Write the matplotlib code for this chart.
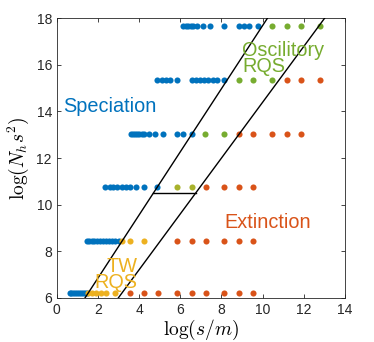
import matplotlib
matplotlib.use("Agg")
import matplotlib.pyplot as plt

# --- data ------------------------------------------------------------------
# y level of each row of simulations, log(N_h s^2)
row_y = [6.2, 8.45, 10.75, 13.05, 15.35, 17.65]

# x positions, log(s/m), one list per row (bottom to top)
speciation_x = [
    [0.62, 0.70, 0.79, 0.88, 0.97, 1.06, 1.16, 1.26, 1.36, 1.46],
    [1.46, 1.58, 1.70, 1.83, 1.96, 2.10, 2.24, 2.38, 2.53, 2.68, 2.84, 3.00],
    [2.34, 2.56, 2.75, 2.94, 3.16, 3.36, 3.56, 3.85, 4.24, 4.88],
    [3.59, 3.70, 3.80, 3.90, 4.01, 4.12, 4.24, 4.50, 4.77, 5.15, 5.82, 6.12, 6.55],
    [4.88, 5.10, 5.31, 5.50, 5.86, 6.55, 6.76, 6.96, 7.15, 7.36, 7.57, 7.77, 8.14],
    [6.15, 6.27, 6.39, 6.51, 6.63, 6.83, 7.09, 7.44, 8.14, 8.87, 9.09, 9.33, 9.79],
]
tw_rqs_x = [
    [1.52, 1.70, 1.91, 2.14, 2.39, 2.83],
    [3.19, 3.56, 4.24],
    [],
    [],
    [],
    [],
]
mixed_x = [[], [], [5.86, 6.55], [], [], []]
osc_rqs_x = [
    [],
    [],
    [],
    [7.20, 8.14],
    [8.87, 9.56, 10.47],
    [10.47, 11.19, 11.87, 12.80],
]
extinction_x = [
    [3.56, 4.24, 4.90, 5.86, 6.55, 7.23, 8.12, 8.85, 9.54],
    [5.82, 6.55, 7.23, 8.14, 8.87, 9.56],
    [7.23, 8.14, 8.87, 9.56],
    [8.87, 9.56, 10.47, 11.18, 11.87],
    [11.18, 11.87, 12.80],
    [],
]

# phase boundaries
bound_y = [6.0, 18.0]
bound1_x = [1.37, 10.24]
bound2_x = [2.99, 13.02]
step_x = [4.69, 6.76]
step_y = [10.48, 10.48]

BLUE = "#0072BD"
ORANGE = "#D95319"
YELLOW = "#EDB120"
GREEN = "#77AC30"
OLIVE = "#A8B22C"

plt.rcParams["font.family"] = ["Liberation Sans", "DejaVu Sans"]
plt.rcParams["mathtext.fontset"] = "cm"

fig = plt.figure(figsize=(3.74, 3.42), dpi=100)
ax = fig.add_axes([0.152, 0.129, 0.770, 0.818])

groups = [
    (speciation_x, BLUE),
    (tw_rqs_x, YELLOW),
    (mixed_x, OLIVE),
    (osc_rqs_x, GREEN),
    (extinction_x, ORANGE),
]
for xs_rows, col in groups:
    for y, xs in zip(row_y, xs_rows):
        if xs:
            ax.plot(xs, [y] * len(xs), "o", color=col, ms=4.4, mec="none",
                    zorder=2, clip_on=False)

ax.plot(bound1_x, bound_y, color="black", lw=1.0, zorder=3)
ax.plot(bound2_x, bound_y, color="black", lw=1.0, zorder=3)
ax.plot(step_x, step_y, color="black", lw=1.0, zorder=3)

fs = 14.3
ax.text(0.3, 14.2, "Speciation", color=BLUE, fontsize=fs, va="center")
ax.text(9.0, 16.26, "Oscilitory\nRQS", color=GREEN, fontsize=fs,
        va="center", ha="left", linespacing=0.78)
ax.text(8.15, 9.25, "Extinction", color=ORANGE, fontsize=fs, va="center")
ax.text(3.92, 7.0, "TW\nRQS", color=YELLOW, fontsize=fs,
        va="center", ha="right", linespacing=0.78)

ax.set_xlim(0, 14)
ax.set_ylim(6, 18)
ax.set_xticks(range(0, 15, 2))
ax.set_yticks(range(6, 19, 2))
ax.tick_params(direction="in", top=True, right=True, labelsize=10,
               length=3, width=0.6, colors="#262626")
for sp in ax.spines.values():
    sp.set_linewidth(0.6)
    sp.set_color("#262626")

ax.set_xlabel(r"$\log(s/m)$", fontsize=14, labelpad=1)
ax.set_ylabel(r"$\log(N_h s^2)$", fontsize=14, labelpad=4)

fig.savefig("out.png", dpi=100)
